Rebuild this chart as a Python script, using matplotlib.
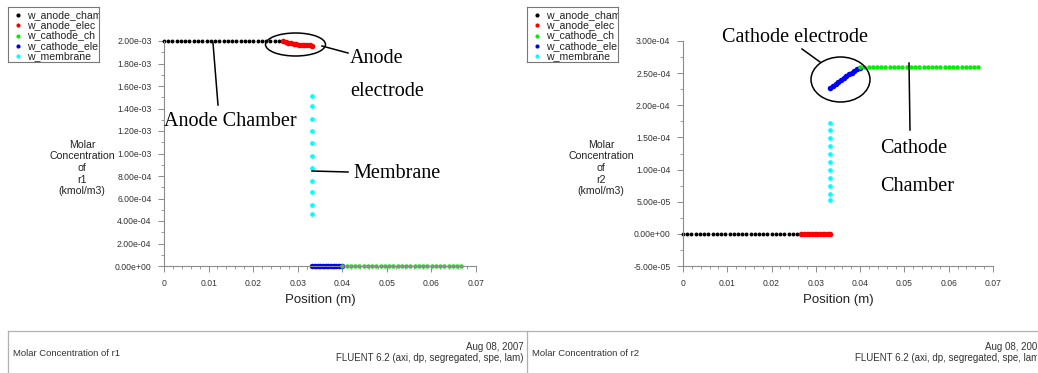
import numpy as np
import matplotlib.pyplot as plt
from matplotlib.patches import Ellipse
from matplotlib.lines import Line2D
from matplotlib.ticker import MultipleLocator, FormatStrFormatter

W, H = 1038, 373

# mesh node positions along the cell (m)
chamber_a_x = [0.0, 0.00095, 0.0019, 0.00286, 0.00381, 0.00477, 0.00572, 0.00668,
               0.00763, 0.00859, 0.00954, 0.0105, 0.01145, 0.0124, 0.01335, 0.01431,
               0.01526, 0.01621, 0.01717, 0.01812, 0.01907, 0.02003, 0.02098, 0.02194,
               0.02289, 0.02384, 0.0248, 0.02575, 0.0267]
elec_a_x = [0.0267, 0.0273, 0.0279, 0.0285, 0.0291, 0.0297, 0.0303, 0.0309,
            0.0315, 0.0321, 0.0327, 0.0333]
memb_x = [0.0333] * 11
elec_c_x = [0.0333, 0.0339, 0.0345, 0.0351, 0.0357, 0.0363, 0.0369, 0.0375,
            0.0381, 0.0387, 0.0393, 0.0400]
chamber_c_x = [0.0400, 0.04095, 0.0419, 0.04286, 0.04381, 0.04477, 0.04572, 0.04668,
               0.04763, 0.04859, 0.04954, 0.0505, 0.05145, 0.0524, 0.05335, 0.05431,
               0.05526, 0.05621, 0.05717, 0.05812, 0.05907, 0.06003, 0.06098, 0.06194,
               0.06289, 0.06384, 0.0648, 0.06575, 0.0667]

# r1 concentration (kmol/m3)
r1_chamber_a = [2.0e-3] * 29
r1_elec_a = [2.0e-3, 1.992e-3, 1.985e-3, 1.979e-3, 1.974e-3, 1.970e-3, 1.967e-3,
             1.965e-3, 1.963e-3, 1.962e-3, 1.961e-3, 1.960e-3]
r1_memb = [1.51e-3, 1.42e-3, 1.31e-3, 1.20e-3, 1.09e-3, 0.98e-3, 0.87e-3,
           0.76e-3, 0.66e-3, 0.54e-3, 0.46e-3]
r1_elec_c = [0.0] * 12
r1_chamber_c = [0.0] * 29

# r2 concentration (kmol/m3)
r2_chamber_a = [0.0] * 29
r2_elec_a = [0.0] * 12
r2_memb = [1.73e-4, 1.62e-4, 1.49e-4, 1.37e-4, 1.24e-4, 1.12e-4, 1.00e-4,
           8.7e-5, 7.5e-5, 6.2e-5, 5.3e-5]
r2_elec_c = [2.27e-4, 2.30e-4, 2.33e-4, 2.36e-4, 2.39e-4, 2.42e-4, 2.45e-4,
             2.48e-4, 2.51e-4, 2.53e-4, 2.56e-4, 2.58e-4]
r2_chamber_c = [2.6e-4] * 29

# legend entries, as far as the narrow legend box shows them
names = ['w_anode_cham', 'w_anode_elec', 'w_cathode_ch',
         'w_cathode_ele', 'w_membrane']
colors = ['black', 'red', '#00ee00', 'blue', 'cyan']

SANS = 'Liberation Sans'
SERIF = 'Liberation Serif'
GRAY = '#8c8c8c'


def fx(px):
    return px / W


def fy(py):
    return 1 - py / H


fig = plt.figure(figsize=(W / 100, H / 100), dpi=100)


def panel(x0, x1, ylim, ymaj, ymin, data, rname, ylab_x):
    ax = fig.add_axes([fx(x0), fy(266), fx(x1 - x0), 225 / H])
    chA, elA, mem, elC, chC = data
    ax.plot(chamber_a_x, chA, 'o', color=colors[0], ms=2.8, mew=0, clip_on=False)
    ax.plot(elec_a_x, elA, 'o', color=colors[1], ms=4.0, mew=0, clip_on=False)
    ax.plot(memb_x, mem, 'o', color=colors[4], ms=3.4, mew=0, clip_on=False)
    ax.plot(elec_c_x, elC, 'o', color=colors[3], ms=4.0, mew=0, clip_on=False)
    ax.plot(chamber_c_x, chC, 'o', color=colors[2], ms=3.2, mew=0, clip_on=False)
    ax.set_xlim(0, 0.07)
    ax.set_ylim(*ylim)
    for s in ['top', 'right']:
        ax.spines[s].set_visible(False)
    for s in ['left', 'bottom']:
        ax.spines[s].set_color(GRAY)
        ax.spines[s].set_linewidth(0.8)
    ax.xaxis.set_major_locator(MultipleLocator(0.01))
    ax.xaxis.set_minor_locator(MultipleLocator(0.002))
    ax.yaxis.set_major_locator(MultipleLocator(ymaj))
    ax.yaxis.set_minor_locator(MultipleLocator(ymin))
    ax.yaxis.set_major_formatter(FormatStrFormatter('%.2e'))
    ax.xaxis.set_major_formatter(plt.FuncFormatter(lambda v, p: '0' if v == 0 else '%g' % round(v, 3)))
    ax.tick_params(which='major', length=4, width=0.7, color=GRAY, labelsize=6.2,
                   labelcolor='#333333', pad=5)
    ax.tick_params(which='minor', length=2, width=0.6, color=GRAY)
    for lb in ax.get_xticklabels() + ax.get_yticklabels():
        lb.set_family(SANS)
    ax.set_xlabel('Position (m)', family=SANS, fontsize=9.5, labelpad=5, color='#222222')
    fig.text(fx(ylab_x), fy(168), 'Molar\nConcentration\nof\n%s\n(kmol/m3)' % rname,
             ha='center', va='center', family=SANS, fontsize=7.6, linespacing=1.2,
             color='#222222')
    return ax


def legend_box(x0):
    lax = fig.add_axes([fx(x0), fy(62), fx(91), 55 / H])
    lax.set_xlim(0, 91)
    lax.set_ylim(55, 0)
    lax.set_xticks([])
    lax.set_yticks([])
    for s in lax.spines.values():
        s.set_color('#777777')
        s.set_linewidth(0.8)
    for i, (n, c) in enumerate(zip(names, colors)):
        yy = 8 + i * 10.3
        lax.plot([10], [yy], 'o', color=c, ms=3, mew=0)
        lax.text(19, yy, n, va='center', ha='left', family=SANS, fontsize=7.6,
                 color='#222222', clip_on=True)


panel(164, 476, (0, 2.0e-3), 2e-4, 1e-4,
      (r1_chamber_a, r1_elec_a, r1_memb, r1_elec_c, r1_chamber_c), 'r1', 82)
panel(683, 993, (-5e-5, 3.0e-4), 5e-5, 2.5e-5,
      (r2_chamber_a, r2_elec_a, r2_memb, r2_elec_c, r2_chamber_c), 'r2', 601)
legend_box(8)
legend_box(527)


# callouts
def line(x0, y0, x1, y1):
    fig.add_artist(Line2D([fx(x0), fx(x1)], [fy(y0), fy(y1)], color='black', lw=1.1))


def ellipse(cx, cy, w, h):
    fig.add_artist(Ellipse((fx(cx), fy(cy)), fx(w), h / H, fill=False,
                           edgecolor='black', lw=1.1))


def label(x, y, s):
    fig.text(fx(x), fy(y), s, family=SERIF, fontsize=14.5, ha='left', va='baseline')


ellipse(295.5, 44.5, 60, 23)
line(322, 46, 348, 53)
label(350, 63, 'Anode')
label(350, 96, 'electrode')
line(213, 43, 218, 105)
label(164, 126, 'Anode Chamber')
line(312, 171, 348, 172)
label(353, 178, 'Membrane')

label(722, 42, 'Cathode electrode')
line(802, 49, 820, 62)
ellipse(840.5, 79.5, 59, 45)
line(909, 63, 910, 130)
label(880, 153, 'Cathode')
label(880, 191, 'Chamber')

# footer strip
fig.add_artist(Line2D([fx(8), 1], [fy(331), fy(331)], color='#b0b0b0', lw=0.9))
fig.add_artist(Line2D([fx(8), fx(8)], [fy(331), 0], color='#b0b0b0', lw=0.9))
fig.add_artist(Line2D([fx(527), fx(527)], [fy(331), 0], color='#b0b0b0', lw=0.9))
for x0, x1, rname, xr in [(8, 527, 'r1', 524), (527, 1038, 'r2', 1043)]:
    fax = fig.add_axes([fx(x0 + 1), 0, fx(x1 - x0 - 2), fy(332)])
    fax.axis('off')
    fax.set_xlim(x0 + 1, x1 - 1)
    fax.set_ylim(H, 332)
    fax.text(x0 + 5, 353, 'Molar Concentration of %s' % rname, family=SANS, fontsize=6.8,
             va='center', ha='left', color='#333333')
    fax.text(xr, 347, 'Aug 08, 2007', family=SANS, fontsize=7.0,
             va='center', ha='right', color='#333333', clip_on=True)
    fax.text(xr, 358, 'FLUENT 6.2 (axi, dp, segregated, spe, lam)',
             family=SANS, fontsize=7.0, va='center', ha='right', color='#333333',
             clip_on=True)

fig.savefig('out.png', dpi=100)
